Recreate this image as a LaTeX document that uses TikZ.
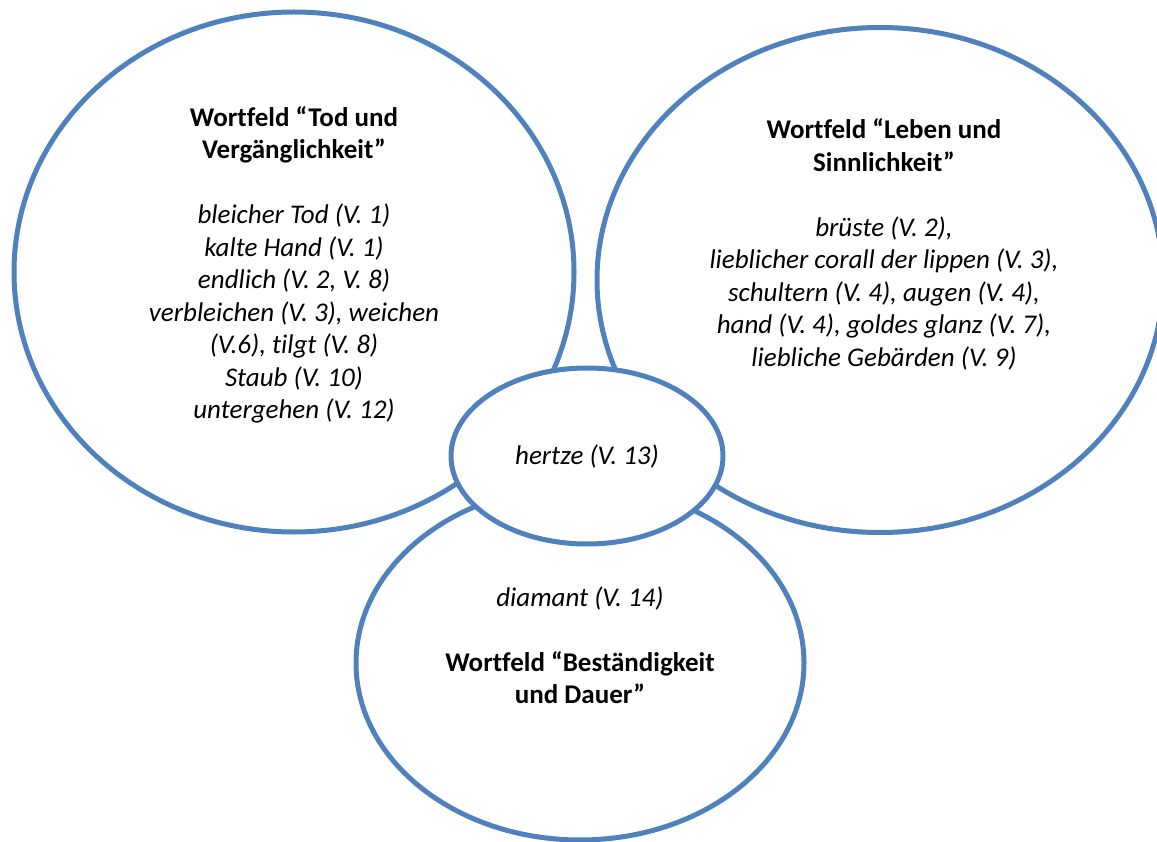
\documentclass[tikz,border=0pt]{standalone}
\usepackage{fontspec}
\setmainfont{Carlito}[Ligatures=NoCommon]
\usetikzlibrary{shapes.geometric}
\definecolor{feldblau}{HTML}{4F81BD}
\tikzset{feld/.style={ellipse,draw=feldblau,line width=5pt,fill=white,inner sep=0pt},
	wort/.style={align=center,inner sep=0pt,font=\fontsize{27}{32.5}\selectfont}}

\begin{document}
\begin{tikzpicture}[x=1pt,y=-1pt]

		\useasboundingbox (0,0) rectangle (1157,842);

		\coordinate (Tod) at (294,272);
		\coordinate (Leben) at (880,280);
		\coordinate (Dauer) at (580,663);
		\coordinate (Herz) at (587,456);

		\node [feld,minimum width=560pt,minimum height=520pt] (feldTod) at (Tod) {};
		\node [feld,minimum width=566pt,minimum height=505pt] (feldLeben) at (Leben) {};
		\node [feld,minimum width=448pt,minimum height=354pt] (feldDauer) at (Dauer) {};
		\node [feld,minimum width=272pt,minimum height=176pt] (feldHerz) at (Herz) {};

		\node [wort] (textTod) at (294,265)
			{\textbf{Wortfeld “Tod und}\\\textbf{Vergänglichkeit”}\\[32.5pt]
			\textit{bleicher Tod (V. 1)}\\\textit{kalte Hand (V. 1)}\\
			\textit{endlich (V. 2, V. 8)}\\\textit{verbleichen (V. 3), weichen}\\
			\textit{(V.6), tilgt (V. 8)}\\\textit{Staub (V. 10)}\\
			\textit{untergehen (V. 12)}};

		\node [wort] (textLeben) at (884,244.5)
			{\textbf{Wortfeld “Leben und}\\\textbf{Sinnlichkeit”}\\[32.5pt]
			\textit{brüste (V. 2),}\\\textit{lieblicher corall der lippen (V. 3),}\\
			\textit{schultern (V. 4), augen (V. 4),}\\
			\textit{hand (V. 4), goldes glanz (V. 7),}\\
			\textit{liebliche Gebärden (V. 9)}};

		\node [wort] (textDauer) at (580,645)
			{\textit{diamant (V. 14)}\\[32.5pt]
			\textbf{Wortfeld “Beständigkeit}\\\textbf{und Dauer”}};

		\node [wort] (textHerz) at (Herz) {\textit{hertze (V. 13)}};

\end{tikzpicture}
\end{document}
